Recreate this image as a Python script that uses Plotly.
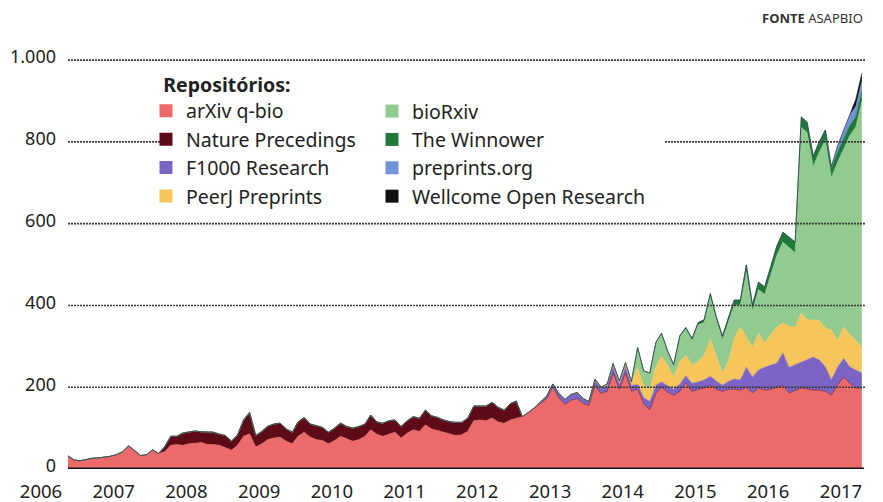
import plotly.graph_objects as go
import pandas as pd

# ---------------- data (monthly submissions) ----------------
arxiv_start = "2006-01"
arxiv = [32, 22, 20, 24, 26, 27, 29, 31, 35, 42, 57, 44, 33, 35, 47, 38,
         42, 58, 60, 58, 62, 63, 65, 60, 60, 58, 52, 46, 58, 80, 86, 54,
         62, 72, 76, 78, 68, 62, 80, 90, 78, 72, 70, 62, 70, 80, 74, 68,
         72, 80, 96, 85, 80, 86, 90, 76, 88, 96, 92, 108, 98, 94, 90, 86,
         82, 84, 92, 118, 120, 118, 125, 115, 112, 120, 124, 128, 138, 150, 160, 172,
         200, 175, 158, 168, 172, 160, 155, 205, 185, 190, 235, 195, 235, 190, 195, 160,
         145, 185, 200, 188, 180, 190, 210, 190, 195, 198, 205, 195, 190, 195, 195, 193,
         200, 186, 198, 193, 195, 200, 205, 186, 192, 198, 196, 193, 193, 190, 181, 205,
         225, 210, 198, 198]

nature_start = "2007-05"
nature = [12, 22, 20, 30, 28, 30, 26, 30, 30, 27, 30, 22, 25, 40, 52, 28,
          30, 33, 34, 34, 30, 28, 35, 36, 32, 34, 32, 28, 30, 32, 30, 32,
          32, 30, 36, 30, 32, 32, 30, 28, 30, 32, 32, 36, 32, 32, 30, 30,
          32, 30, 32, 36, 34, 36, 38, 36, 32, 40, 42]

f1000_start = "2012-07"
f1000 = [4, 6, 8, 10, 12, 14, 15, 12, 10, 12, 12, 14, 15, 12, 15, 14, 12, 15,
         20, 20, 13, 15, 15, 18, 18, 20, 18, 20, 22, 20, 15, 20, 25, 25,
         49, 39, 44, 56, 60, 59, 79, 63, 63, 64, 72, 81, 74, 60, 37, 44, 46, 40, 44, 37]

peerj_start = "2013-04"
peerj = [3, 3, 4, 8, 8, 10, 10, 40, 30,
         30, 45, 62, 50, 30, 55, 50, 45, 50, 60, 90, 60, 30, 50, 100, 129,
         73, 73, 90, 59, 75, 88, 73, 101, 92, 119, 97, 90, 97, 95, 122, 66, 76, 80, 73, 63]

biorxiv_start = "2013-11"
biorxiv = [50, 35, 40, 60, 57, 35, 30, 60, 65, 60, 90, 80, 104, 90, 82, 96, 81, 54,
           159, 89, 107, 119, 143, 176, 198, 193, 182, 455, 458, 376, 411, 459, 373, 435,
           434, 485, 522, 601]

winnower_start = "2014-06"
winnower = [3, 3, 4, 5, 7, 8, 7, 8, 12, 12, 12,
            18, 14, 18, 18, 21, 22, 24, 24, 26, 25, 25, 25, 25, 25, 22, 25, 25, 25, 25, 27]

preprints_start = "2016-07"
preprints = [5, 15, 24, 25, 25, 22]

wellcome_start = "2016-10"
wellcome = [5, 18, 20]

names = ["arXiv q-bio", "Nature Precedings", "F1000 Research", "PeerJ Preprints",
         "bioRxiv", "The Winnower", "preprints.org", "Wellcome Open Research"]
colors = ["#EC6A6A", "#5E0B17", "#7B64C4", "#F6C65B",
          "#93CA8F", "#1F7A3A", "#6F93D6", "#111111"]
series = [(arxiv_start, arxiv), (nature_start, nature), (f1000_start, f1000),
          (peerj_start, peerj), (biorxiv_start, biorxiv), (winnower_start, winnower),
          (preprints_start, preprints), (wellcome_start, wellcome)]

y_ticks = [0, 200, 400, 600, 800, 1000]
y_ticktext = ["0", "200", "400", "600", "800", "1.000"]
years = list(range(2006, 2018))

FONT = "Noto Sans"
TXT = "#222222"
LEG = 19.5

fig = go.Figure()
for name, col, (start, vals) in zip(names, colors, series):
    x = pd.date_range(start, periods=len(vals), freq="MS")
    fig.add_trace(go.Scatter(
        x=x, y=vals, name=name, stackgroup="one", mode="lines",
        line=dict(width=0.5, color=col), fillcolor=col, showlegend=False,
        hoverinfo="x+y+name"))

# legend entries (square swatches) in two columns
for k, (name, col) in enumerate(zip(names, colors)):
    fig.add_trace(go.Scatter(
        x=[None], y=[None], mode="markers", name=name,
        marker=dict(symbol="square", size=13, color=col),
        legend="legend" if k < 4 else "legend2"))

# dotted gridlines drawn above the areas
shapes = []
for v in y_ticks[1:]:
    shapes.append(dict(type="line", xref="paper", yref="y", x0=0, x1=0.997, y0=v, y1=v,
                       line=dict(color="#3a3a3a", width=1.6, dash="2px,1px"), layer="above"))
# white box behind the legend
shapes.append(dict(type="rect", xref="paper", yref="y", x0=0.12, x1=0.745, y0=760, y1=840,
                   fillcolor="white", line=dict(width=0), layer="above"))
# baseline
shapes.append(dict(type="line", xref="paper", yref="y", x0=0, x1=0.995, y0=0, y1=0,
                   line=dict(color="#151515", width=3), layer="above"))

fig.update_layout(
    width=875, height=494,
    margin=dict(l=60, r=15, t=48, b=33, autoexpand=False),
    paper_bgcolor="white", plot_bgcolor="white",
    font=dict(family=FONT, color=TXT, size=LEG),
    shapes=shapes,
    legend=dict(title=dict(text="&nbsp;&nbsp;&nbsp;<b>Repositórios:</b>",
                           font=dict(size=LEG, color=TXT)),
                x=0.0975, y=0.975, xanchor="left", yanchor="top",
                bgcolor="rgba(0,0,0,0)", font=dict(size=LEG, color=TXT),
                traceorder="normal", tracegroupgap=0, itemclick=False),
    legend2=dict(x=0.38, y=0.913, xanchor="left", yanchor="top",
                 bgcolor="rgba(0,0,0,0)", font=dict(size=LEG, color=TXT),
                 traceorder="normal", tracegroupgap=0, itemclick=False),
    annotations=[dict(text="<b>FONTE</b> ASAPBIO", xref="paper", yref="paper",
                      x=0.996, y=1.093, xanchor="right", yanchor="middle",
                      showarrow=False, font=dict(size=13, color="#333333"))],
)

fig.update_xaxes(
    type="date", range=["2006-01-01", "2017-01-01"], automargin=False,
    tickmode="array",
    tickvals=[f"{y}-01-01" for y in years], ticktext=[str(y) for y in years],
    ticklabelshift=-27, ticklabelstandoff=9,
    showgrid=False, zeroline=False, showline=False, ticks="",
    tickfont=dict(family=FONT, size=18.5, color=TXT))
fig.update_yaxes(
    range=[0, 1010], automargin=False, tickmode="array", tickvals=y_ticks, ticktext=y_ticktext,
    showgrid=False, zeroline=False, showline=False, ticks="",
    ticklabelstandoff=11, ticklabelshift=-3,
    tickfont=dict(family=FONT, size=18, color=TXT))

fig.write_html("out.html")
